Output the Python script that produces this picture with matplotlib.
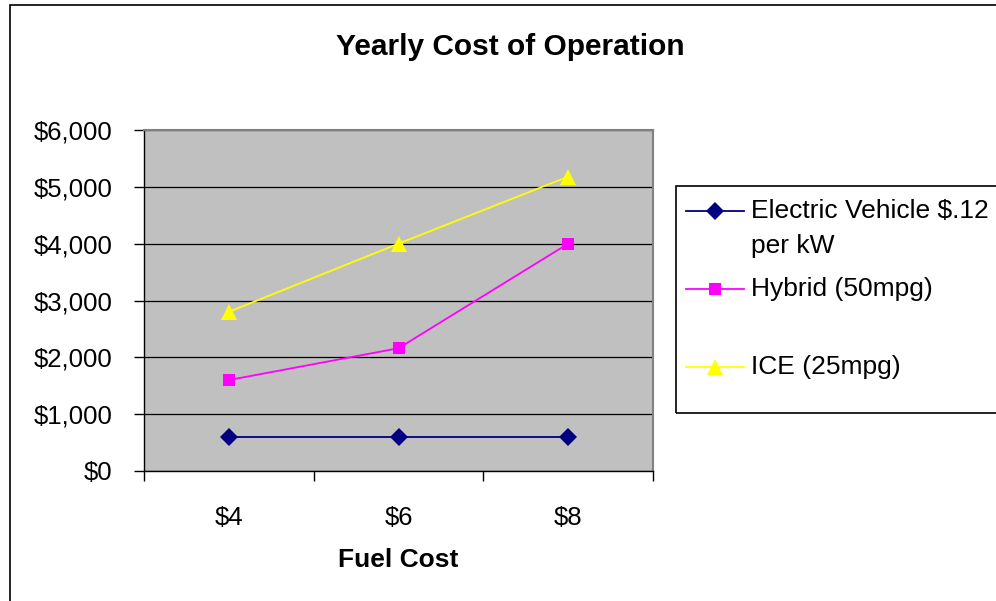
import matplotlib
matplotlib.use('Agg')
import matplotlib.pyplot as plt
from matplotlib.lines import Line2D
from matplotlib.patches import Rectangle
from matplotlib.ticker import FuncFormatter

plt.rcParams['font.family'] = ['Liberation Sans', 'DejaVu Sans']
plt.rcParams['text.parse_math'] = False

# data
fuel_cost = ['$4', '$6', '$8']
electric = [600, 600, 600]
hybrid = [1600, 2160, 4000]
ice = [2800, 4000, 5180]
series_names = ['Electric Vehicle $.12\nper kW', 'Hybrid (50mpg)', 'ICE (25mpg)']
y_ticks = [0, 1000, 2000, 3000, 4000, 5000, 6000]

W, H = 996, 601
fig = plt.figure(figsize=(W / 100, H / 100), dpi=100)
ax = fig.add_axes([144 / W, 1 - 471 / H, (653 - 144) / W, (471 - 130) / H])
ax.set_facecolor('#C0C0C0')

styles = [
    dict(color='#000080', marker='D', markersize=9.5),
    dict(color='#FF00FF', marker='s', markersize=9),
    dict(color='#FFFF00', marker='^', markersize=12),
]
x = list(range(len(fuel_cost)))
for vals, st in zip([electric, hybrid, ice], styles):
    ax.plot(x, vals, lw=1.3, markeredgewidth=0, zorder=3, clip_on=False, **st)

ax.set_xlim(-0.5, len(fuel_cost) - 0.5)
ax.set_ylim(0, 6000)
ax.set_yticks(y_ticks)
ax.yaxis.set_major_formatter(FuncFormatter(lambda v, p: '${:,.0f}'.format(v)))
ax.grid(axis='y', color='black', lw=0.9)
ax.set_axisbelow(True)

ax.set_xticks(x)
ax.set_xticklabels(fuel_cost)
ax.set_xticks([i - 0.5 for i in range(len(fuel_cost) + 1)], minor=True)
ax.tick_params(axis='x', which='major', length=0, pad=25, labelsize=18.5)
ax.tick_params(axis='x', which='minor', length=7, width=1, direction='out')
ax.tick_params(axis='y', length=7, width=1, direction='out', pad=16, labelsize=18.5)

for s in ['top', 'right']:
    ax.spines[s].set_color('#808080')
    ax.spines[s].set_linewidth(1.5)
for s in ['left', 'bottom']:
    ax.spines[s].set_color('black')
    ax.spines[s].set_linewidth(1)

fig.text(510 / W, 1 - 47 / H, 'Yearly Cost of Operation', ha='center', va='center',
         fontsize=21.5, fontweight='bold')
fig.text(398 / W, 1 - 560 / H, 'Fuel Cost', ha='center', va='center',
         fontsize=19, fontweight='bold')

# outer chart frame
fig.patches.append(Rectangle((10 / W, -0.05), 1.1, 1 - 5 / H + 0.05, transform=fig.transFigure,
                             fill=False, edgecolor='black', lw=1.2))

# legend box
fig.patches.append(Rectangle((676 / W, 1 - 413 / H), 1.0, (413 - 186) / H, transform=fig.transFigure,
                             fill=False, edgecolor='black', lw=1.2))
rows_y = [211, 289, 367]
for name, st, yy in zip(series_names, styles, rows_y):
    fy = 1 - yy / H
    fig.lines.append(Line2D([686 / W, 744 / W], [fy, fy], transform=fig.transFigure,
                            color=st['color'], lw=1.3))
    fig.lines.append(Line2D([715 / W], [fy], transform=fig.transFigure, color=st['color'],
                            marker=st['marker'], markersize=st['markersize'], markeredgewidth=0))
    for k, line in enumerate(name.split('\n')):
        fig.text(751 / W, 1 - (yy + 35 * k) / H, line, ha='left', va='center', fontsize=19)

fig.savefig('out.png', dpi=100)
